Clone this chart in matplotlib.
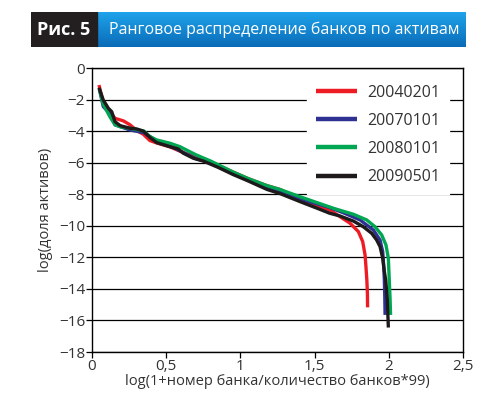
import matplotlib
matplotlib.use("Agg")
import matplotlib.pyplot as plt
import numpy as np
from matplotlib.patches import Rectangle

plt.rcParams['font.family'] = ['Open Sans', 'DejaVu Sans']

labels = ["20040201", "20070101", "20080101", "20090501"]
colors = ["#ED1C24", "#2E3192", "#00A651", "#1E1A1B"]

x_2004 = [0.047, 0.076, 0.11, 0.155, 0.211, 0.256, 0.30, 0.346, 0.39, 0.436, 0.526, 0.6, 0.7, 0.8,
          0.952, 1.05, 1.177, 1.267, 1.402, 1.5, 1.604, 1.671, 1.739, 1.795, 1.824, 1.84, 1.846,
          1.852, 1.856, 1.857]
y_2004 = [-1.08, -2.2, -2.66, -3.19, -3.35, -3.6, -3.95, -4.2, -4.6, -4.75, -5.0, -5.3, -5.65, -5.95,
          -6.6, -7.0, -7.45, -7.7, -8.3, -8.65, -9.0, -9.42, -9.84, -10.37, -11.0, -11.85, -12.59,
          -13.43, -14.3, -15.17]

x_2007 = [0.05, 0.076, 0.12, 0.155, 0.256, 0.35, 0.45, 0.55, 0.7, 0.8, 0.95, 1.1, 1.267, 1.402,
          1.604, 1.7, 1.806, 1.896, 1.941, 1.959, 1.966, 1.970, 1.973, 1.975]
y_2007 = [-1.35, -2.45, -2.87, -3.6, -3.93, -4.1, -4.7, -5.05, -5.75, -6.0, -6.65, -7.25, -7.85, -8.3,
          -8.85, -9.2, -9.63, -10.27, -10.9, -11.64, -12.6, -13.43, -14.5, -15.65]

x_2008 = [0.05, 0.076, 0.12, 0.155, 0.189, 0.256, 0.35, 0.39, 0.436, 0.526, 0.593, 0.7, 0.8, 0.952,
          1.05, 1.177, 1.267, 1.402, 1.626, 1.761, 1.851, 1.907, 1.952, 1.981, 1.997, 2.003, 2.008, 2.012]
y_2008 = [-1.35, -2.3, -3.08, -3.6, -3.72, -3.82, -4.0, -4.35, -4.56, -4.77, -4.99, -5.5, -5.9, -6.6,
          -7.0, -7.45, -7.7, -8.16, -8.89, -9.27, -9.63, -10.06, -10.58, -11.22, -12.06, -13.43, -14.5, -15.65]

x_2009 = [0.047, 0.076, 0.11, 0.133, 0.155, 0.189, 0.256, 0.30, 0.346, 0.39, 0.436, 0.526, 0.58, 0.615,
          0.683, 0.75, 0.85, 0.95, 1.05, 1.18, 1.267, 1.402, 1.52, 1.6, 1.671, 1.761, 1.828, 1.885, 1.918,
          1.941, 1.959, 1.97, 1.979, 1.99, 1.997]
y_2009 = [-1.25, -2.03, -2.55, -2.77, -3.4, -3.65, -3.82, -3.86, -4.0, -4.4, -4.73, -4.99, -5.13, -5.4,
          -5.72, -5.9, -6.3, -6.75, -7.15, -7.7, -7.96, -8.47, -8.9, -9.2, -9.38, -9.7, -10.06, -10.48,
          -10.9, -11.32, -12.06, -12.9, -13.43, -14.7, -16.45]

xs = [x_2004, x_2007, x_2008, x_2009]
ys = [y_2004, y_2007, y_2008, y_2009]

x_ticks = [0, 0.5, 1, 1.5, 2, 2.5]
x_ticklabels = ["0", "0,5", "1", "1,5", "2", "2,5"]
y_ticks = [0, -2, -4, -6, -8, -10, -12, -14, -16, -18]
y_ticklabels = ["0", "−2", "−4", "−6", "−8", "−10", "−12", "−14", "−16", "−18"]

title_fig = "Рис. 5"
title_text = "Ранговое распределение банков по активам"
xlabel = "log(1+номер банка/количество банков*99)"
ylabel = "log(доля активов)"

W, H = 500, 403
fig = plt.figure(figsize=(W / 100, H / 100), dpi=100)

ax = fig.add_axes([92 / W, 1 - 352 / H, (463 - 92) / W, (352 - 68) / H])
for xv, yv, c, lab in zip(xs, ys, colors, labels):
    ax.plot(xv, yv, color=c, lw=2.4, label=lab, solid_capstyle='butt', solid_joinstyle='round')

ax.set_xlim(0, 2.5)
ax.set_ylim(-18, 0)
ax.set_xticks(x_ticks)
ax.set_xticklabels(x_ticklabels)
ax.set_yticks(y_ticks)
ax.set_yticklabels(y_ticklabels)
ax.yaxis.grid(True, color='black', lw=0.9)
ax.set_axisbelow(True)
for s in ax.spines.values():
    s.set_color('black')
    s.set_linewidth(1.0)
ax.tick_params(direction='out', length=4, width=0.9, colors='black', labelcolor='#333333',
               labelsize=11, pad=1)
ax.set_xlabel(xlabel, fontsize=10.5, color='#333333', labelpad=0)
ax.set_ylabel(ylabel, fontsize=10.5, color='#333333', labelpad=4)

leg = ax.legend(loc='upper left', bbox_to_anchor=(0.58, 0.972), frameon=True, fontsize=11.5,
                handlelength=2.6, handletextpad=0.6, labelspacing=0.76, borderpad=0.55,
                fancybox=False, borderaxespad=0)
leg.get_frame().set_facecolor('white')
leg.get_frame().set_edgecolor('white')
leg.get_frame().set_alpha(1)
for t in leg.get_texts():
    t.set_color('#333333')
for l in leg.get_lines():
    l.set_linewidth(3.2)

# Banner
bax = fig.add_axes([31 / W, 1 - 47 / H, (466 - 31) / W, (47 - 12) / H])
bax.set_xlim(0, 435)
bax.set_ylim(35, 0)
bax.axis('off')
grad = np.linspace(0, 1, 64).reshape(-1, 1)
top = np.array([0.12, 0.64, 0.92])
bot = np.array([0.04, 0.42, 0.72])
img = top[None, None, :] * (1 - grad[:, :, None]) + bot[None, None, :] * grad[:, :, None]
bax.imshow(img, extent=(66, 435, 35, 0), aspect='auto')
bax.add_patch(Rectangle((0, 0), 66, 35, color='#231F20'))
bax.text(33, 18, title_fig, color='white', fontsize=13, fontweight='bold', ha='center', va='center')
bax.text(78, 18, title_text, color='white', fontsize=11.5, ha='left', va='center')

fig.savefig("out.png", dpi=100)
